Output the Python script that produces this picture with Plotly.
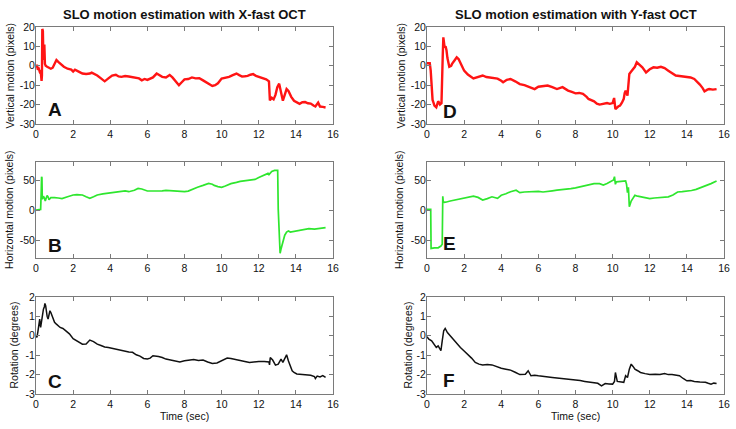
import plotly.graph_objects as go

W, H = 736, 429

# ---------------- data (time in s, value) ----------------
x_vert = [(0,-1),(0.05,0.5),(0.1,-2),(0.15,-1.5),(0.2,-3),(0.25,-2.5),(0.3,-7.8),(0.32,-5),(0.34,19),(0.37,18),
          (0.4,3),(0.43,11),(0.45,11),(0.48,1),(0.52,0),(0.6,-0.5),(0.7,-1),(0.8,-1.5),(0.9,-1),(1.0,1.5),
          (1.1,3),(1.2,2),(1.3,1),(1.5,-0.5),(1.7,-1.5),(1.9,-2),(2.0,-3),(2.1,-2),(2.3,-3),(2.5,-4),
          (2.7,-4.2),(2.9,-4),(3.0,-3.5),(3.15,-4.2),(3.3,-5),(3.5,-6.5),(3.7,-8),(3.9,-6.5),(4.1,-5),(4.3,-4.6),
          (4.45,-5.5),(4.6,-5.7),(4.8,-5.3),(5.0,-5.5),(5.2,-5.8),(5.4,-6),(5.55,-6.5),(5.7,-7.5),(5.85,-6.8),(6.0,-7.3),
          (6.15,-6.8),(6.3,-6),(6.5,-4),(6.65,-5),(6.8,-5.7),(7.0,-6),(7.2,-4.7),(7.35,-6),(7.5,-7.5),(7.7,-10),
          (7.85,-8.5),(8.0,-7),(8.2,-6.8),(8.4,-6),(8.6,-6.5),(8.8,-6.4),(9.0,-7.5),(9.2,-8.6),(9.35,-9.5),(9.5,-10.4),
          (9.65,-10),(9.8,-9),(10.0,-6.6),(10.2,-6.2),(10.4,-5.7),(10.6,-4.8),(10.8,-4),(10.95,-4.8),(11.1,-5.5),(11.25,-5.4),
          (11.4,-5.2),(11.55,-4.6),(11.7,-4.3),(11.85,-5.2),(12.0,-5.7),(12.2,-6.2),(12.4,-7),(12.55,-8),(12.6,-17.8),(12.7,-16.5),
          (12.8,-17.3),(12.9,-15),(13.0,-11),(13.1,-9.2),(13.2,-13),(13.3,-18),(13.4,-15),(13.5,-12),(13.6,-13),(13.75,-16),
          (13.9,-18),(14.05,-19),(14.2,-19.6),(14.35,-18.8),(14.5,-18.7),(14.65,-19.3),(14.8,-19.5),(14.95,-20.5),(15.05,-21),(15.2,-19),
          (15.3,-21),(15.45,-21.2),(15.6,-21.5)]

x_horiz = [(0,0),(0.1,0.5),(0.25,1),(0.28,30),(0.3,55.5),(0.32,54),(0.34,18),(0.4,23),(0.45,20),(0.5,15),(0.55,20),
           (0.6,24),(0.65,22),(0.7,17),(0.8,20.5),(0.9,20),(1.0,20.5),(1.2,20),(1.4,19),(1.7,22),(2.0,25),(2.2,25.5),
           (2.5,25),(2.7,22),(2.9,19.5),(3.1,22),(3.3,25),(3.6,27),(4.0,29),(4.3,30),(4.5,31),(4.8,32),(5.0,30.5),
           (5.3,33),(5.5,36),(5.7,35),(6.0,31.7),(6.3,31.5),(6.5,31),(6.8,32),(7.0,32.8),(7.3,32),(7.5,31.7),(7.8,31),
           (8.0,30.5),(8.2,31.5),(8.4,34.4),(8.7,38),(9.0,41),(9.3,44.4),(9.5,43),(9.6,41),(9.8,39),(10.0,37.8),(10.2,40),
           (10.5,44),(10.8,46),(11.0,47.8),(11.3,49),(11.5,49.4),(11.8,51),(12.0,54),(12.2,57),(12.5,61),(12.55,59),
           (12.7,64.4),(12.85,66),(12.95,66.7),(13.02,66),(13.05,1),(13.1,-40),(13.15,-72),(13.2,-65),(13.3,-52),(13.4,-42),
           (13.5,-36.7),(13.6,-35),(13.7,-36.7),(13.85,-36),(14.0,-35),(14.2,-34),(14.5,-32),(14.7,-31),(15.0,-32),(15.2,-31),
           (15.4,-30.5),(15.6,-29.4)]

x_rot = [(0,0),(0.05,-0.08),(0.1,0.2),(0.15,0.6),(0.2,0.86),(0.25,0.43),(0.3,0.8),(0.35,0.9),(0.4,1.37),(0.45,1.5),
         (0.48,1.67),(0.52,1.55),(0.55,1.29),(0.6,1.0),(0.65,0.86),(0.7,1.1),(0.75,1.29),(0.8,1.2),(0.85,1.08),(0.9,0.95),
         (1.0,0.7),(1.1,0.6),(1.3,0.43),(1.45,0.38),(1.6,0.26),(1.8,0.1),(2.0,-0.15),(2.2,-0.25),(2.5,-0.43),(2.7,-0.42),
         (2.9,-0.22),(3.1,-0.3),(3.3,-0.43),(3.5,-0.5),(3.7,-0.58),(3.9,-0.6),(4.1,-0.64),(4.3,-0.7),(4.5,-0.74),(4.7,-0.8),
         (5.0,-0.84),(5.2,-0.85),(5.4,-0.98),(5.6,-1.05),(5.8,-1.17),(6.0,-1.2),(6.15,-1.15),(6.3,-1.03),(6.5,-1.05),(6.6,-1.07),
         (6.8,-1.12),(7.0,-1.2),(7.25,-1.25),(7.5,-1.32),(7.75,-1.35),(8.0,-1.29),(8.25,-1.25),(8.5,-1.22),(8.75,-1.27),(9.0,-1.25),
         (9.25,-1.35),(9.5,-1.43),(9.75,-1.4),(10.0,-1.29),(10.3,-1.15),(10.5,-1.17),(10.7,-1.2),(11.0,-1.25),(11.25,-1.32),(11.5,-1.37),
         (11.75,-1.33),(12.0,-1.32),(12.3,-1.33),(12.55,-1.35),(12.58,-1.5),(12.62,-1.12),(12.75,-1.25),(12.9,-1.51),(13.05,-1.46),(13.15,-1.3),
         (13.2,-1.2),(13.3,-1.37),(13.4,-1.15),(13.5,-0.98),(13.6,-1.3),(13.7,-1.6),(13.8,-1.8),(13.9,-1.89),(14.05,-1.97),(14.2,-1.98),
         (14.4,-2.0),(14.6,-2.0),(14.8,-2.03),(15.0,-2.1),(15.05,-2.2),(15.15,-2.08),(15.3,-2.12),(15.45,-2.05),(15.6,-2.14)]

y_vert = [(0,1.3),(0.1,1.5),(0.15,1.3),(0.2,-2.5),(0.25,-10),(0.3,-17.6),(0.35,-19),(0.4,-20.5),(0.5,-21.4),(0.55,-20),
          (0.6,-18.3),(0.65,-19),(0.7,-20),(0.78,-19.3),(0.82,-10),(0.85,6),(0.88,14.7),(0.92,12),(0.95,9.5),(1.0,10),
          (1.05,8),(1.1,4),(1.2,-0.5),(1.3,0),(1.35,1),(1.5,3),(1.6,4.4),(1.7,3.5),(1.8,1.8),(1.9,-0.5),
          (2.0,-2.5),(2.2,-4.5),(2.5,-6.5),(2.7,-6),(3.0,-5),(3.2,-5.8),(3.5,-6.3),(3.8,-6.6),(4.0,-7.7),(4.1,-8.5),
          (4.3,-7.2),(4.5,-6.8),(4.75,-8),(5.0,-9.4),(5.25,-10),(5.5,-10.8),(5.8,-12),(6.0,-10.8),(6.25,-10.5),(6.5,-10.2),
          (6.75,-11),(7.0,-12),(7.3,-11),(7.6,-12.8),(7.8,-13.5),(8.0,-14.2),(8.2,-14),(8.4,-14.5),(8.6,-16),(8.7,-17.1),
          (9.0,-18.3),(9.15,-19.5),(9.3,-20),(9.5,-19.5),(9.7,-19.2),(9.85,-19.6),(10.0,-19.2),(10.08,-16.6),(10.15,-22.3),(10.3,-21),
          (10.4,-20.5),(10.5,-19),(10.6,-17),(10.65,-14),(10.7,-12.8),(10.8,-15.4),(10.85,-8),(10.9,-4.2),(11.0,-3),(11.1,-1.6),
          (11.2,-0.5),(11.3,1.8),(11.45,0.5),(11.6,-0.8),(11.8,-3.4),(12.0,-1.8),(12.2,-0.8),(12.4,-1),(12.6,-0.5),(12.8,-1.2),
          (13.0,-2.5),(13.2,-3.8),(13.4,-5),(13.7,-5.4),(14.0,-5.6),(14.2,-6),(14.4,-6.8),(14.55,-8),(14.7,-9.7),(14.85,-11.5),
          (14.95,-13.2),(15.1,-12.3),(15.2,-12),(15.4,-12.3),(15.6,-12)]

y_horiz = [(0,1),(0.2,1),(0.22,-64),(0.3,-63),(0.4,-63),(0.6,-63),(0.75,-60),(0.82,-57),(0.85,23),(0.88,12),
           (0.95,13),(1.0,13),(1.25,15),(1.5,16.7),(1.75,17.5),(2.0,19),(2.25,21),(2.5,23),(2.75,21),(3.0,16.7),
           (3.25,19),(3.5,22),(3.8,19.5),(4.0,24.5),(4.25,27),(4.5,30.5),(4.8,33),(5.0,29),(5.25,30),(5.5,30.5),
           (5.75,31),(6.0,31),(6.25,30),(6.5,30.5),(6.75,32),(7.0,33),(7.25,33.5),(7.5,34.4),(7.75,35.5),(8.0,37),
           (8.25,38.5),(8.5,40),(8.75,42),(9.0,44),(9.3,44),(9.5,41.7),(9.7,44),(9.9,46.7),(10.05,50),(10.1,55.5),
           (10.15,42.8),(10.2,47),(10.4,47.5),(10.7,48.3),(10.75,42.8),(10.8,29),(10.85,38),(10.9,5.5),(11.0,15),(11.1,21),
           (11.2,24.4),(11.35,23),(11.5,22),(11.75,20),(12.0,19),(12.25,20),(12.5,20.5),(12.75,21),(13.0,22),(13.25,25),
           (13.5,30),(13.75,30.5),(14.0,31),(14.25,32.5),(14.5,34.4),(14.75,37),(15.0,40),(15.3,44),(15.6,48.3)]

y_rot = [(0,-0.05),(0.1,-0.17),(0.25,-0.26),(0.4,-0.43),(0.5,-0.6),(0.6,-0.52),(0.7,-0.69),(0.75,-0.77),(0.82,-0.26),(0.9,0.26),
         (0.98,0.38),(1.1,0.17),(1.25,0.0),(1.4,-0.17),(1.6,-0.4),(1.8,-0.6),(2.0,-0.78),(2.2,-0.95),(2.4,-1.15),(2.6,-1.37),
         (2.8,-1.46),(3.0,-1.5),(3.25,-1.48),(3.5,-1.5),(3.75,-1.6),(4.0,-1.67),(4.25,-1.72),(4.5,-1.77),(4.75,-1.88),(5.0,-2.0),
         (5.3,-1.98),(5.45,-1.8),(5.6,-2.06),(5.8,-2.03),(6.0,-2.06),(6.25,-2.08),(6.5,-2.1),(6.75,-2.15),(7.0,-2.18),(7.25,-2.2),
         (7.5,-2.23),(7.75,-2.25),(8.0,-2.29),(8.25,-2.31),(8.5,-2.35),(8.75,-2.38),(9.0,-2.4),(9.2,-2.45),(9.4,-2.58),(9.6,-2.46),
         (9.8,-2.48),(10.0,-2.49),(10.1,-2.35),(10.15,-1.89),(10.25,-2.35),(10.4,-2.38),(10.6,-2.4),(10.7,-2.06),(10.8,-2.15),(10.9,-1.72),
         (11.0,-1.46),(11.1,-1.58),(11.2,-1.72),(11.35,-1.8),(11.5,-1.89),(11.75,-1.95),(12.0,-2.0),(12.3,-1.98),(12.55,-2.0),(12.8,-1.94),
         (13.0,-2.0),(13.2,-2.0),(13.4,-2.02),(13.6,-2.06),(13.8,-2.2),(14.0,-2.32),(14.2,-2.3),(14.4,-2.35),(14.7,-2.38),(15.0,-2.4),
         (15.15,-2.45),(15.3,-2.49),(15.45,-2.44),(15.6,-2.46)]

titles = ["SLO motion estimation with X-fast OCT", "SLO motion estimation with Y-fast OCT"]
row_labels = ["Vertical motion (pixels)", "Horizontal motion (pixels)", "Rotation (degrees)"]
letters = [["A", "B", "C"], ["D", "E", "F"]]
x_ticks = [0, 2, 4, 6, 8, 10, 12, 14, 16]
y_ranges = [(-30, 20), (-80, 80), (-3, 2)]
y_ticks = [[-30, -20, -10, 0, 10, 20], [-50, 0, 50], [-3, -2, -1, 0, 1, 2]]

# ---------------- layout geometry (window pixels) ----------------
col_px = [(36, 333), (427, 724)]
row_px = [(27, 124), (162, 258), (297, 394)]
ytitle_x = [[10, 9, 13], [401, 399, 407]]
letter_pos = [[(55, 110), (55, 245), (55, 381)], [(450, 111), (449, 244), (449, 380)]]
colors = ["#ff1414", "#2ee62e", "#111111"]
widths = [2.4, 1.7, 1.5]

def px(x):
    return x / W

def py(y):
    return 1 - y / H

series = [[x_vert, x_horiz, x_rot], [y_vert, y_horiz, y_rot]]

fig = go.Figure()
FONT = "Liberation Sans, Arial, sans-serif"
layout = dict(width=W, height=H, margin=dict(l=0, r=0, t=0, b=0, autoexpand=False),
              paper_bgcolor="white", plot_bgcolor="white", showlegend=False,
              font=dict(family=FONT, size=11, color="#111111"))
annotations = []
idx = 0
for c in range(2):
    for r in range(3):
        idx += 1
        xa = "xaxis" if idx == 1 else f"xaxis{idx}"
        ya = "yaxis" if idx == 1 else f"yaxis{idx}"
        xr = "x" if idx == 1 else f"x{idx}"
        yr = "y" if idx == 1 else f"y{idx}"
        pts = series[c][r]
        t = [p[0] for p in pts]
        v = [p[1] for p in pts]
        fig.add_trace(go.Scatter(x=t, y=v, mode="lines", xaxis=xr, yaxis=yr,
                                 line=dict(color=colors[r], width=widths[r]), hoverinfo="skip"))
        common = dict(showline=True, linecolor="#7a7a7a", linewidth=1, mirror="ticks",
                      ticks="inside", ticklen=4, tickcolor="#7a7a7a", showgrid=False, zeroline=False,
                      automargin=False,
                      tickfont=dict(family=FONT, size=10.5, color="#111111"))
        layout[xa] = dict(domain=[px(col_px[c][0]), px(col_px[c][1])], range=[0, 16],
                          tickvals=x_ticks, ticktext=[str(v_) for v_ in x_ticks], anchor=yr, **common)
        layout[ya] = dict(domain=[py(row_px[r][1]), py(row_px[r][0])], range=list(y_ranges[r]),
                          tickvals=y_ticks[r], ticktext=[str(v_) for v_ in y_ticks[r]],
                          anchor=xr, ticklabelstandoff=-2, **common)
        annotations.append(dict(text=row_labels[r], x=px(ytitle_x[c][r]), y=py((row_px[r][0] + row_px[r][1]) / 2),
                                xref="paper", yref="paper", xanchor="center", yanchor="middle",
                                textangle=-90, showarrow=False,
                                font=dict(size=10.5, family=FONT, color="#111111")))
        lx, ly = letter_pos[c][r]
        annotations.append(dict(text="<b>" + letters[c][r] + "</b>", x=px(lx), y=py(ly), xref="paper", yref="paper",
                                xanchor="center", yanchor="middle",
                                showarrow=False, font=dict(size=19, family=FONT, color="#111111")))
    mid = (col_px[c][0] + col_px[c][1]) / 2
    annotations.append(dict(text="<b>" + titles[c] + "</b>", x=px(mid), y=py(14),
                            xref="paper", yref="paper", xanchor="center", yanchor="middle", showarrow=False,
                            font=dict(size=13, family=FONT, color="#111111")))
    annotations.append(dict(text="Time (sec)", x=px(mid), y=py(416),
                            xref="paper", yref="paper", xanchor="center", yanchor="middle", showarrow=False,
                            font=dict(size=10.5, family=FONT, color="#111111")))

layout["annotations"] = annotations
fig.update_layout(**layout)
fig.write_html("out.html", config={"displayModeBar": False},
               post_script="document.body.style.margin='0px';")
